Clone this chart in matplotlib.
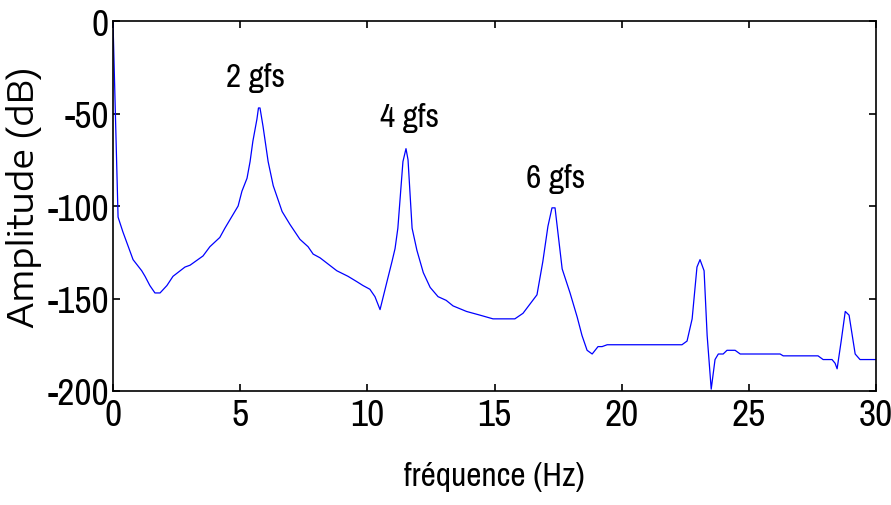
import matplotlib
matplotlib.use("Agg")
import matplotlib.pyplot as plt

plt.rcParams['axes.unicode_minus'] = False

# spectrum (Hz, dB)
freq = [0.0, 0.2, 0.39, 0.79, 1.13, 1.26, 1.45, 1.65, 1.85, 2.12, 2.36, 2.83, 3.03,
        3.54, 3.81, 4.2, 4.4, 4.92, 5.07, 5.27, 5.39, 5.5, 5.66, 5.72, 5.78, 5.9,
        6.1, 6.3, 6.65, 6.96, 7.35, 7.67, 7.87, 8.14, 8.8, 9.24, 9.6, 9.83, 10.1,
        10.3, 10.5, 10.77, 10.97, 11.09, 11.2, 11.4, 11.52, 11.6, 11.76, 11.95,
        12.2, 12.47, 12.78, 13.1, 13.37, 13.9, 14.43, 14.94, 15.8, 16.12, 16.67,
        16.9, 17.1, 17.26, 17.38, 17.66, 17.97, 18.25, 18.44, 18.64, 18.84, 19.07,
        19.23, 19.43, 22.37, 22.57, 22.77, 22.96, 23.08, 23.24, 23.36, 23.52,
        23.67, 23.8, 23.99, 24.14, 24.46, 24.66, 26.23, 26.35, 27.72, 27.92,
        28.27, 28.39, 28.47, 28.63, 28.79, 28.94, 29.18, 29.37, 30.0]
amp = [0, -106, -114, -129, -135, -138, -143, -147, -147, -143, -138, -133, -132,
       -127, -122, -117, -112, -100, -92, -85, -76, -65, -53, -47, -47, -57,
       -76, -89, -103, -110, -118, -122, -126, -128, -135, -138, -141, -143, -145,
       -149, -156, -141, -130, -123, -112, -76, -69, -75, -112, -124,
       -136, -144, -149, -151, -154, -157, -159, -161, -161, -158, -148,
       -130, -111, -101, -101, -134, -147, -160, -170, -178, -180, -176,
       -176, -175, -175, -173, -161, -133, -129, -135, -170, -199,
       -183, -180, -180, -178, -178, -180, -180, -181, -181, -183,
       -183, -185, -188, -173, -157, -159, -180, -183, -183]

peak_labels = ["2 gfs", "4 gfs", "6 gfs"]
peak_x = [5.62, 11.68, 17.42]
peak_y = [-30, -52, -85]

narrow = ["Archivo Narrow", "DejaVu Sans"]
wide = ["Encode Sans Expanded", "Liberation Sans", "DejaVu Sans"]

fig = plt.figure(figsize=(8.91, 5.06), dpi=100)
ax = fig.add_axes([0.1268, 0.2253, 0.8564, 0.7312])
ax.plot(freq, amp, color="#0000ff", linewidth=0.9)

for lab, x, y in zip(peak_labels, peak_x, peak_y):
    ax.text(x, y, lab, ha="center", va="center", fontsize=24, family=narrow)

ax.set_xlim(0, 30)
ax.set_ylim(-200, 0)
ax.set_xticks(range(0, 31, 5))
ax.set_yticks(range(-200, 1, 50))
ax.tick_params(direction="in", length=5, width=1.2, top=True, right=True,
               labelsize=27, pad=3)
ax.tick_params(axis="x", pad=5)
for lbl in ax.get_xticklabels() + ax.get_yticklabels():
    lbl.set_family(narrow)
for s in ax.spines.values():
    s.set_linewidth(1.2)

ax.set_xlabel("fréquence (Hz)", fontsize=24, family=narrow, labelpad=22)
ax.set_ylabel("Amplitude (dB)", fontsize=25, family=wide)
ax.yaxis.set_label_coords(-0.093, 0.527)

fig.savefig("out.png", dpi=100)
